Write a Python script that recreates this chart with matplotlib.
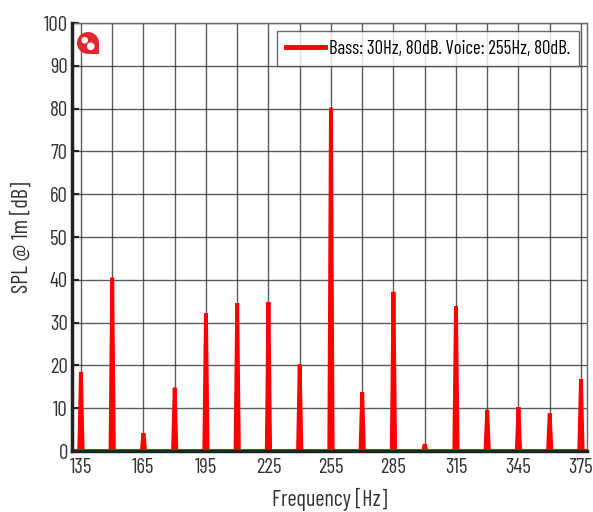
import matplotlib.pyplot as plt
from matplotlib.patches import Circle, Rectangle

# peak frequencies and levels
freqs = [135, 150, 165, 180, 195, 210, 225, 240, 255, 270, 285, 300, 315, 330, 345, 360, 375]
levels = [18.5, 40.5, 4.2, 14.8, 32.2, 34.5, 34.8, 20.2, 80.2, 13.8, 37.2, 1.6, 33.8, 9.6, 10.3, 8.8, 16.8]
x_ticks = [135, 165, 195, 225, 255, 285, 315, 345, 375]
y_ticks = [0, 10, 20, 30, 40, 50, 60, 70, 80, 90, 100]
legend_label = "Bass: 30Hz, 80dB. Voice: 255Hz, 80dB."

plt.rcParams['font.family'] = ['Barlow Condensed', 'DejaVu Sans']

fig = plt.figure(figsize=(5.93, 5.12), dpi=100)
ax = fig.add_axes([0.1214, 0.119, 0.8685, 0.836])

# build a spiky spectrum line: zero baseline with narrow peaks
xs, ys = [130.7], [0]
for f, v in zip(freqs, levels):
    xs += [f - 0.8, f, f + 0.8]
    ys += [0, v, 0]
xs.append(377.9)
ys.append(0)
ax.plot(xs, ys, color='#ff0000', lw=2.8, solid_joinstyle='miter', label=legend_label, zorder=3)

ax.set_xlim(130.7, 377.9)
ax.set_ylim(0, 100)
ax.set_xticks(x_ticks)
ax.set_xticks(freqs, minor=True)
ax.set_yticks(y_ticks)
ax.grid(True, which='both', color='#333333', lw=1.0, alpha=0.8, zorder=0)
ax.set_axisbelow(True)

ax.tick_params(axis='y', direction='in', length=5, width=1.5, colors='#222222', labelsize=15, pad=3)
ax.tick_params(axis='x', which='both', length=0, labelsize=15, colors='#222222', pad=5)
for lab in ax.get_xticklabels() + ax.get_yticklabels():
    lab.set_color('#333333')

for side in ['left', 'bottom']:
    ax.spines[side].set_linewidth(2.5)
    ax.spines[side].set_color('#222222')
    ax.spines[side].set_zorder(4)
for side in ['top', 'right']:
    ax.spines[side].set_linewidth(1.0)
    ax.spines[side].set_color('#666666')

ax.set_xlabel("Frequency [Hz]", fontsize=16, color='#333333', labelpad=8)
ax.set_ylabel("SPL @ 1m [dB]", fontsize=16, color='#333333', labelpad=8)

leg = ax.legend(loc='upper right', fontsize=13.5, handlelength=2.1, frameon=True,
                fancybox=False, edgecolor='#444444', borderaxespad=0.45,
                borderpad=0.45, handletextpad=0.2)
leg.get_frame().set_linewidth(1.0)
leg.get_lines()[0].set_linewidth(3.5)

# small red logo in the top-left corner, in its own square axes
lax = fig.add_axes([77 / 593, 1 - 54 / 512, 22 / 593, 22 / 512])
lax.set_xlim(-1, 1)
lax.set_ylim(-1, 1)
lax.set_aspect('equal')
lax.axis('off')
lax.add_patch(Rectangle((0, -1), 1, 1, color='#e3262f', lw=0))
lax.add_patch(Circle((0, 0), 1, color='#e3262f', lw=0))
lax.add_patch(Circle((-0.3, 0.25), 0.3, color='white', lw=0))
lax.add_patch(Circle((0.25, -0.3), 0.35, color='white', lw=0))

fig.savefig('out.png', dpi=100)
